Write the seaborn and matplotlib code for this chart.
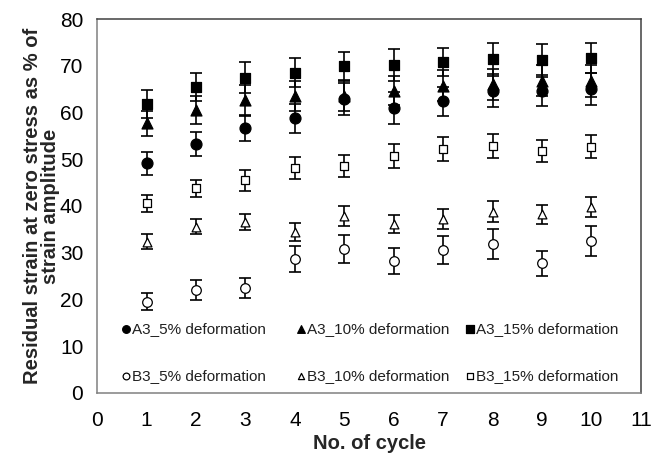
import matplotlib
matplotlib.use("Agg")
import matplotlib.pyplot as plt
from matplotlib.legend import Legend
import seaborn as sns
import pandas as pd

# Cycle numbers
cycles = [1, 2, 3, 4, 5, 6, 7, 8, 9, 10]

# Residual strain (% of strain amplitude) and standard deviations
a3_5 = [49.1, 53.3, 56.6, 58.8, 62.9, 60.9, 62.4, 64.7, 64.7, 65.0]
a3_5_err = [2.4, 2.6, 2.8, 3.1, 3.4, 3.4, 3.1, 3.6, 3.4, 3.5]
a3_10 = [57.7, 60.5, 62.6, 63.5, 63.6, 64.7, 65.7, 66.0, 66.8, 66.8]
a3_10_err = [2.7, 3.0, 3.3, 3.2, 3.3, 3.2, 3.3, 3.4, 3.3, 3.4]
a3_15 = [61.8, 65.4, 67.4, 68.5, 69.9, 70.1, 70.9, 71.4, 71.2, 71.7]
a3_15_err = [3.0, 3.0, 3.3, 3.1, 3.1, 3.4, 3.0, 3.5, 3.5, 3.2]
b3_5 = [19.5, 22.0, 22.5, 28.7, 30.8, 28.3, 30.6, 31.9, 27.7, 32.6]
b3_5_err = [1.8, 2.2, 2.2, 2.8, 3.0, 2.8, 3.0, 3.2, 2.7, 3.2]
b3_10 = [32.4, 35.6, 36.6, 34.5, 37.9, 36.1, 37.2, 38.8, 38.2, 39.8]
b3_10_err = [1.5, 1.6, 1.7, 1.9, 2.1, 1.9, 2.2, 2.3, 2.0, 2.2]
b3_15 = [40.6, 43.8, 45.5, 48.1, 48.6, 50.7, 52.2, 52.8, 51.8, 52.7]
b3_15_err = [1.8, 1.8, 2.2, 2.3, 2.3, 2.5, 2.6, 2.5, 2.4, 2.5]

series_labels = ["A3_5% deformation", "B3_5% deformation",
                 "A3_10% deformation", "B3_10% deformation",
                 "A3_15% deformation", "B3_15% deformation"]
series_values = [a3_5, b3_5, a3_10, b3_10, a3_15, b3_15]
series_errors = [a3_5_err, b3_5_err, a3_10_err, b3_10_err, a3_15_err, b3_15_err]

frames = []
for lab, vals, errs in zip(series_labels, series_values, series_errors):
    frames.append(pd.DataFrame({"cycle": cycles, "strain": vals,
                                "err": errs, "series": lab}))
df = pd.concat(frames, ignore_index=True)

sns.set_style("white")
plt.rcParams["font.family"] = ["Liberation Sans", "DejaVu Sans"]

fig = plt.figure(figsize=(6.52, 4.58), dpi=100)
ax = fig.add_axes([0.149, 0.142, 0.834, 0.8165])

styles = {
    "A3_5% deformation": dict(marker="o", face="black", size=62),
    "B3_5% deformation": dict(marker="o", face="white", size=48),
    "A3_10% deformation": dict(marker="^", face="black", size=62),
    "B3_10% deformation": dict(marker="^", face="white", size=40),
    "A3_15% deformation": dict(marker="s", face="black", size=58),
    "B3_15% deformation": dict(marker="s", face="white", size=40),
}

for lab in series_labels:
    sub = df[df["series"] == lab]
    st = styles[lab]
    ax.errorbar(sub["cycle"], sub["strain"], yerr=sub["err"], fmt="none",
                ecolor="black", elinewidth=1.2, capsize=4, capthick=1.2,
                zorder=2)
    sns.scatterplot(data=sub, x="cycle", y="strain", marker=st["marker"],
                    s=st["size"], color=st["face"], edgecolor="black",
                    linewidth=0.9, label=lab, ax=ax, zorder=3)

ax.set_xlim(0, 11)
ax.set_ylim(0, 80)
ax.set_xticks(range(0, 12))
ax.set_yticks(range(0, 81, 10))
ax.tick_params(axis="both", direction="out", length=5, width=1,
               color="#808080", labelsize=15, pad=5, labelcolor="black")
ax.tick_params(axis="x", pad=8)

for side in ["left", "bottom"]:
    ax.spines[side].set_color("#808080")
for side in ["top", "right"]:
    ax.spines[side].set_color("#404040")
for sp in ax.spines.values():
    sp.set_linewidth(1.1)

label_font = dict(family=["Liberation Sans Narrow", "Liberation Sans", "DejaVu Sans"],
                  weight="bold", size=14.5)
ax.set_xlabel("No. of cycle", fontdict=label_font, labelpad=3)
ax.set_ylabel("Residual strain at zero stress as % of\nstrain amplitude",
              fontdict=label_font, linespacing=0.95)
ax.yaxis.set_label_coords(-0.068, 0.5)

# Legend: three columns (5%, 10%, 15%), A3 on top and B3 below
handles, labels = ax.get_legend_handles_labels()
lookup = dict(zip(labels, handles))
if ax.get_legend() is not None:
    ax.get_legend().remove()
column_pairs = [("A3_5% deformation", "B3_5% deformation"),
                ("A3_10% deformation", "B3_10% deformation"),
                ("A3_15% deformation", "B3_15% deformation")]
column_left = [0.046, 0.3676, 0.678]
for pair, x0 in zip(column_pairs, column_left):
    leg = Legend(ax, [lookup[p] for p in pair], list(pair),
                 loc="center left", bbox_to_anchor=(x0, 0.108),
                 frameon=False, fontsize=11, handlelength=0.5,
                 handletextpad=0.15, labelspacing=2.2,
                 borderaxespad=0, borderpad=0, markerscale=0.7)
    for t in leg.get_texts():
        t.set_color("#202020")
    ax.add_artist(leg)

fig.savefig("out.png", dpi=100)
